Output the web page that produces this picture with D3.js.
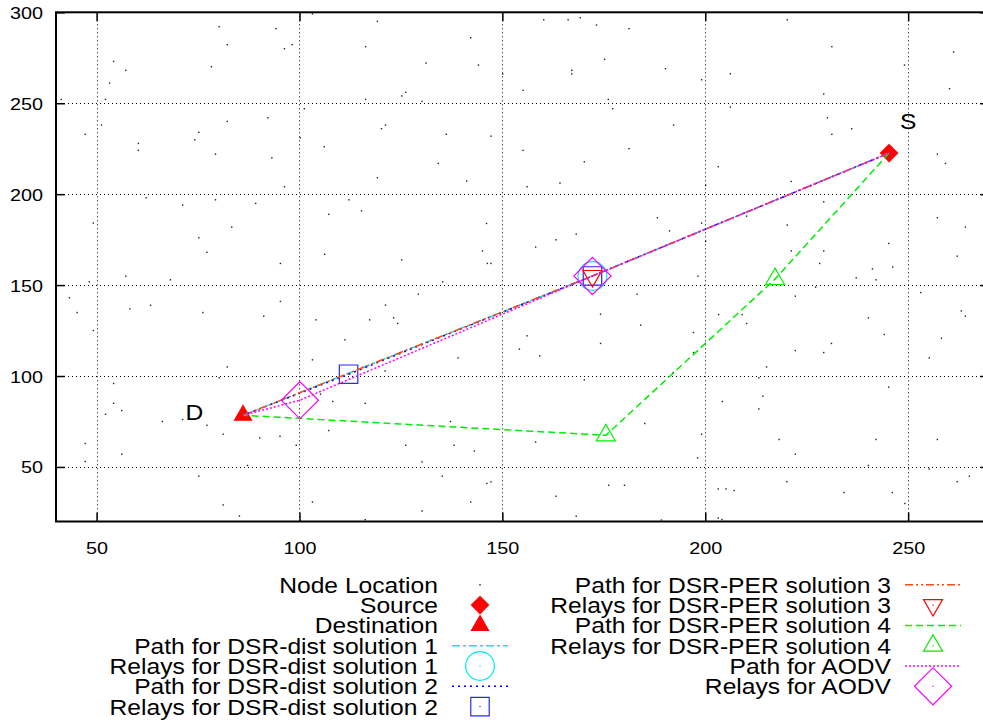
<!doctype html>
<html>
<head>
<meta charset="utf-8">
<style>
body { margin: 0; background-color: white; }
svg text { font-family: "Liberation Sans", Arial, sans-serif; fill: black; }
</style>
<script src="https://cdnjs.cloudflare.com/ajax/libs/d3/7.8.5/d3.min.js"></script>
</head>
<body>
<div id="chart"></div>
<script>
// axis ticks
var xTicks = [50, 100, 150, 200, 250];
var yTicks = [50, 100, 150, 200, 250, 300];

// node locations
var nodes = [
  [80.2,292.1],[94.2,291.0],[82.2,282.2],[96.3,280.0],[98.2,282.2],[116.3,281.1],[103.2,299.1],[54.2,273.0],
  [57.2,268.1],[78.3,270.1],[53.2,261.1],[41.3,252.1],[52.2,252.1],[116.3,252.1],[101.2,247.0],[51.2,238.0],
  [47.2,232.9],[82.2,240.0],[92.2,242.0],[75.2,234.0],[74.2,229.9],[60.3,227.9],[60.3,224.1],[79.3,222.0],
  [93.2,220.0],[100.2,231.0],[106.1,226.1],[119.2,295.0],[142.2,286.0],[131.2,272.1],[144.1,271.0],[126.2,256.0],
  [125.2,254.0],[130.2,251.0],[121.2,238.0],[120.2,236.0],[136.2,232.9],[147.2,231.9],[134.2,216.9],[119.2,209.0],
  [160.2,295.9],[166.2,295.9],[169.2,297.0],[173.2,293.0],[181.2,291.0],[175.2,274.1],[190.2,269.0],[167.1,268.1],
  [167.1,266.1],[155.1,257.1],[150.1,266.1],[176.1,252.1],[177.2,247.0],[192.2,238.0],[155.1,224.1],[181.2,225.0],
  [170.2,217.8],[220.2,295.9],[231.2,281.1],[261.2,278.2],[206.2,266.2],[199.1,262.9],[249.1,271.0],[260.2,258.0],
  [229.2,255.1],[206.2,247.9],[230.1,242.0],[236.1,236.0],[231.2,232.9],[203.2,215.1],[257.2,222.0],[259.2,216.9],
  [96.3,204.1],[62.2,198.0],[71.2,194.0],[79.3,196.9],[89.2,194.9],[112.2,196.9],[115.3,190.8],[107.2,188.9],
  [49.2,184.1],[83.3,181.9],[75.2,176.0],[77.2,168.0],[106.2,166.9],[95.3,161.9],[57.2,154.9],[48.2,151.8],
  [68.2,152.9],[43.3,143.0],[45.2,134.9],[58.2,136.9],[63.3,138.9],[76.2,134.9],[91.2,132.9],[95.3,141.0],
  [104.1,130.9],[117.3,130.9],[111.2,119.9],[49.2,125.0],[141.2,207.2],[156.1,204.1],[164.2,206.1],[146.1,183.9],
  [168.2,178.0],[163.2,174.9],[158.2,170.9],[145.1,168.8],[125.2,163.9],[146.3,161.9],[147.2,161.9],[135.3,151.8],
  [129.3,145.0],[121.2,139.0],[123.2,132.0],[124.2,128.9],[188.2,187.0],[191.2,179.8],[183.2,145.0],[174.2,134.0],
  [184.1,128.0],[156.1,122.1],[174.2,117.9],[154.2,114.8],[221.2,207.0],[200.1,204.8],[229.2,195.8],[210.2,187.9],
  [199.1,184.1],[220.2,183.0],[257.2,187.0],[264.1,181.9],[245.2,172.9],[200.1,174.0],[221.2,168.8],[229.2,168.8],
  [228.2,161.9],[241.2,158.9],[246.2,159.9],[262.1,165.9],[237.2,154.0],[242.1,152.9],[198.2,154.9],[227.2,148.9],
  [222.2,143.9],[253.1,145.9],[203.3,133.8],[209.1,133.8],[210.2,128.9],[240.2,132.0],[263.1,135.8],[264.1,132.9],
  [197.1,123.9],[244.1,122.8],[258.2,120.8],[231.1,117.9],[103.2,108.9],[82.2,105.0],[54.2,95.9],[80.2,99.0],
  [54.2,85.0],[56.2,81.0],[52.2,79.0],[66.2,75.0],[71.2,76.1],[77.2,72.9],[81.2,68.0],[90.2,66.0],
  [95.2,66.9],[99.2,61.9],[107.2,70.0],[108.2,86.0],[116.2,85.0],[105.2,90.0],[47.2,62.9],[47.2,53.0],
  [56.2,57.0],[87.2,50.8],[75.2,44.9],[81.2,29.1],[103.2,30.7],[85.2,23.0],[116.2,21.0],[159.2,111.1],
  [139.1,110.0],[121.1,102.8],[170.2,97.9],[137.2,75.0],[185.1,73.9],[158.2,63.7],[126.2,61.9],[138.1,61.9],
  [143.1,58.8],[130.2,52.8],[135.2,44.9],[146.2,40.9],[147.2,41.8],[176.2,39.9],[180.1,39.9],[163.2,33.9],
  [142.2,30.7],[130.2,25.8],[168.2,22.9],[189.2,20.8],[192.1,101.9],[222.2,114.0],[229.2,112.9],[197.1,112.9],
  [215.1,105.0],[255.2,110.0],[213.2,99.0],[245.2,93.9],[204.2,86.0],[214.2,88.9],[213.2,81.9],[199.1,68.0],
  [218.2,65.1],[242.1,65.1],[257.2,65.1],[198.1,55.0],[222.2,57.0],[240.2,50.8],[255.2,48.9],[220.1,41.9],
  [203.2,37.9],[205.1,37.9],[207.1,37.0],[234.2,35.9],[246.1,35.9],[262.1,41.9],[265.1,44.9],[249.2,29.9],
  [203.2,21.9],[204.1,21.1]
];

var source = [245.3, 222.6];
var destination = [86.1, 78.4];

// relays of each route
var relays1 = [[172.2, 155.0]];
var relays2 = [[172.2, 155.0], [112.1, 101.0]];
var relays3 = [[172.2, 155.0]];
var relays4 = [[217.2, 153.3], [175.5, 67.4]];
var relaysAodv = [[172.2, 155.0], [100.1, 86.7]];

var pointLabels = [["S", 250, 240.2], ["D", 74.1, 80.1]];

var width = 983, height = 722;

var svg = d3.select("#chart").append("svg")
  .attr("width", width)
  .attr("height", height);

var x = d3.scaleLinear().domain([40, 270]).range([56, 989.3]);
var y = d3.scaleLinear().domain([20, 300]).range([521.5, 12.3]);

// gnuplot type text is a bit wide, so stretch it a little
function label(parent, px, py, str, size, anchor) {
  return parent.append("text")
    .attr("transform", "translate(" + px + "," + py + ") scale(1.12,1)")
    .attr("font-size", size)
    .attr("text-anchor", anchor)
    .text(str);
}

// grid
svg.append("g").selectAll("line").data(xTicks).join("line")
  .attr("x1", d => Math.round(x(d)) + 0.5).attr("x2", d => Math.round(x(d)) + 0.5)
  .attr("y1", y(300)).attr("y2", y(20))
  .attr("stroke", "#000").attr("stroke-dasharray", "1,3");
svg.append("g").selectAll("line").data(yTicks).join("line")
  .attr("x1", x(40)).attr("x2", x(270))
  .attr("y1", d => Math.round(y(d)) + 0.5).attr("y2", d => Math.round(y(d)) + 0.5)
  .attr("stroke", "#000").attr("stroke-dasharray", "1,3");

// axes, ticks pointing inwards and mirrored
function styleAxis(g, tx, ty) {
  g.select(".domain").remove();
  g.selectAll(".tick line").attr("stroke", "#000").attr("stroke-width", 1.5);
  g.selectAll(".tick text")
    .attr("x", null).attr("y", null).attr("dy", null)
    .attr("font-size", 16.5)
    .attr("font-family", "Liberation Sans, Arial, sans-serif")
    .attr("transform", "translate(" + tx + "," + ty + ") scale(1.2,1)");
}

svg.append("g").attr("transform", "translate(0," + y(20) + ")")
  .call(d3.axisBottom(x).tickValues(xTicks).tickSize(-9))
  .call(g => styleAxis(g, 0, 32.5));
svg.append("g").attr("transform", "translate(0," + y(300) + ")")
  .call(d3.axisTop(x).tickValues(xTicks).tickSize(-9).tickFormat(""))
  .call(g => styleAxis(g, 0, 0));
svg.append("g").attr("transform", "translate(" + x(40) + ",0)")
  .call(d3.axisLeft(y).tickValues(yTicks).tickSize(-9))
  .call(g => styleAxis(g, -13, 6));
svg.append("g").attr("transform", "translate(" + x(270) + ",0)")
  .call(d3.axisRight(y).tickValues(yTicks).tickSize(-9).tickFormat(""))
  .call(g => styleAxis(g, 0, 0));

svg.append("rect")
  .attr("x", x(40)).attr("y", y(300))
  .attr("width", x(270) - x(40)).attr("height", y(20) - y(300))
  .attr("fill", "none").attr("stroke", "#000").attr("stroke-width", 2);

// marker and line styles
var markerStyles = {
  node:   { size: 0 },
  source: { type: d3.symbolSquare, size: 145, rot: 45, fill: "#ff0000", stroke: "#ff0000", dot: false },
  dest:   { type: d3.symbolTriangle, size: 125, rot: 0, fill: "#ff0000", stroke: "#ff0000", dot: false },
  circle: { type: d3.symbolCircle, size: 650, rot: 0, fill: "none", stroke: "#00e8f0", dot: true },
  square: { type: d3.symbolSquare, size: 340, rot: 0, fill: "none", stroke: "#2a2af0", dot: true },
  tridn:  { type: d3.symbolTriangle, size: 156, rot: 180, fill: "none", stroke: "#ff0000", dot: true },
  triup:  { type: d3.symbolTriangle, size: 156, rot: 0, fill: "none", stroke: "#00ee00", dot: true },
  diam:   { type: d3.symbolSquare, size: 690, rot: 45, fill: "none", stroke: "#ff00ff", dot: true }
};

var lineStyles = {
  p1: { color: "#00e8f0", dash: "8,3,3,3" },
  p2: { color: "#0000ff", dash: "2,4" },
  p3: { color: "#ff4a10", dash: "8,3,2,3,2,3" },
  p4: { color: "#00ee00", dash: "7,4" },
  pa: { color: "#ff00ff", dash: "2,2" }
};

function marker(g, kind, cx, cy) {
  var st = markerStyles[kind];
  if (kind === "node") {
    g.append("rect").attr("x", cx - 0.7).attr("y", cy - 0.7)
      .attr("width", 1.4).attr("height", 1.4).attr("fill", "#222");
    return;
  }
  g.append("path")
    .attr("d", d3.symbol().type(st.type).size(st.size)())
    .attr("transform", "translate(" + cx + "," + cy + ") rotate(" + st.rot + ")")
    .attr("fill", st.fill).attr("stroke", st.stroke).attr("stroke-width", 1.2);
  if (st.dot) {
    g.append("rect").attr("x", cx - 0.6).attr("y", cy - 0.6)
      .attr("width", 1.2).attr("height", 1.2).attr("fill", st.stroke);
  }
}

var line = d3.line().x(d => x(d[0])).y(d => y(d[1]));

function route(kind, relays) {
  var st = lineStyles[kind];
  svg.append("path")
    .datum([source].concat(relays).concat([destination]))
    .attr("d", line)
    .attr("fill", "none")
    .attr("stroke", st.color)
    .attr("stroke-width", 1.5)
    .attr("stroke-dasharray", st.dash);
}

var plot = svg.append("g");
nodes.forEach(d => marker(plot, "node", x(d[0]), y(d[1])));
marker(plot, "source", x(source[0]), y(source[1]));
marker(plot, "dest", x(destination[0]), y(destination[1]));

route("p1", relays1);
relays1.forEach(d => marker(svg, "circle", x(d[0]), y(d[1])));
route("p2", relays2);
relays2.forEach(d => marker(svg, "square", x(d[0]), y(d[1])));
route("p3", relays3);
relays3.forEach(d => marker(svg, "tridn", x(d[0]), y(d[1])));
route("p4", relays4);
relays4.forEach(d => marker(svg, "triup", x(d[0]), y(d[1])));
route("pa", relaysAodv);
relaysAodv.forEach(d => marker(svg, "diam", x(d[0]), y(d[1])));

pointLabels.forEach(d => label(svg, x(d[1]), y(d[2]) + 8, d[0], 22, "middle"));

// legend
var legendNames = [
  "Node Location", "Source", "Destination",
  "Path for DSR-dist solution 1", "Relays for DSR-dist solution 1",
  "Path for DSR-dist solution 2", "Relays for DSR-dist solution 2",
  "Path for DSR-PER solution 3", "Relays for DSR-PER solution 3",
  "Path for DSR-PER solution 4", "Relays for DSR-PER solution 4",
  "Path for AODV", "Relays for AODV"
];
var legendKeys = ["node", "source", "dest", "p1", "circle", "p2", "square",
  "p3", "tridn", "p4", "triup", "pa", "diam"];

var legend = svg.append("g");
legendNames.forEach(function(name, i) {
  var col = i < 7 ? 0 : 1;
  var row = col === 0 ? i : i - 7;
  var textX = col === 0 ? 438 : 891;
  var cy = 584.8 + row * 20.3;
  label(legend, textX, cy + 8, name, 22, "end");
  var key = legendKeys[i];
  var sx = textX + 14;
  if (lineStyles[key]) {
    legend.append("line")
      .attr("x1", sx).attr("x2", sx + 56).attr("y1", cy).attr("y2", cy)
      .attr("stroke", lineStyles[key].color).attr("stroke-width", 1.5)
      .attr("stroke-dasharray", lineStyles[key].dash);
  } else {
    marker(legend, key, sx + 28, cy);
  }
});
</script>
</body>
</html>
